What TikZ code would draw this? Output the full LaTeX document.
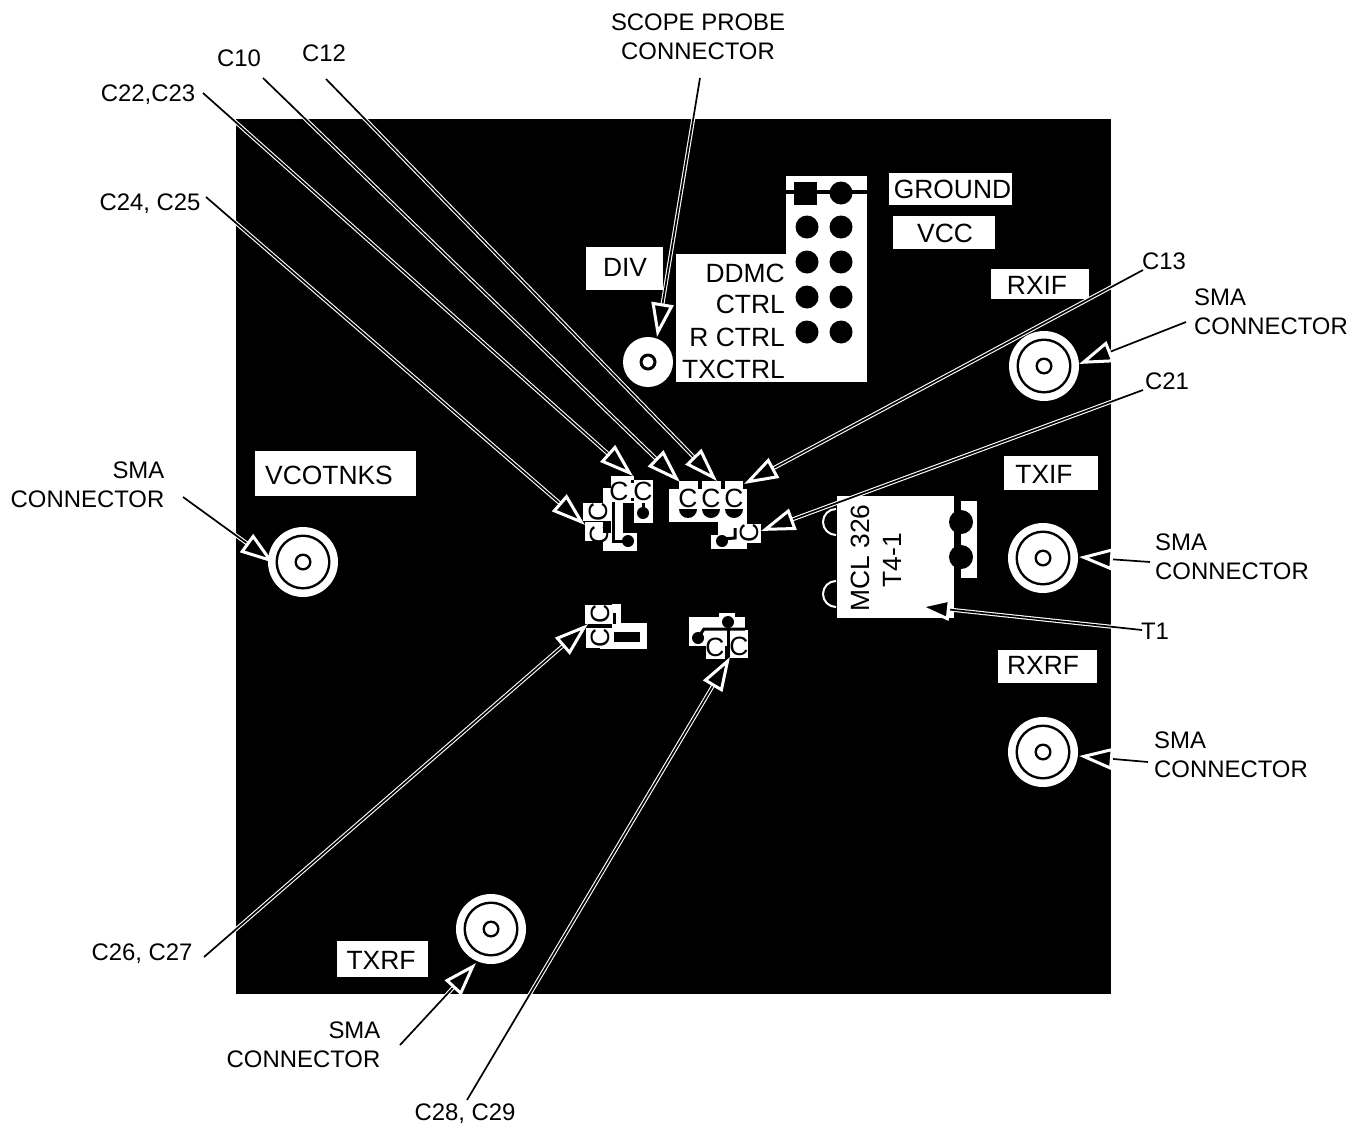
\documentclass[tikz,border=0pt]{standalone}
\usepackage{fontspec}
\setmainfont{Liberation Sans}
\usetikzlibrary{arrows.meta}
\tikzset{
  pad/.style={fill=white},
  hole/.style={fill=black},
  trace/.style={draw=black,line width=3pt},
  lbl/.style={inner sep=0pt,font=\fontsize{23.9}{29}\selectfont},
  brd/.style={inner sep=0pt,font=\fontsize{26.4}{32}\selectfont},
  leader/.style={draw=white,double=black,line width=1.1pt,double distance=1.7pt,
    -{Triangle[open,length=34pt,width=22pt,line width=3pt,fill=black,color=white]}},
}
\begin{document}
\begin{tikzpicture}[x=1pt,y=-1pt]
\useasboundingbox (0,0) rectangle (1365,1127);
\fill[black] (236,119) rectangle (1111,994);

% white areas of the board
\foreach \xa/\ya/\xb/\yb in {
    786/176/867/382, 676/254/786/382, 586/247/663/290,
    889/173/1012/205, 893/216/995/249, 991/269/1089/299,
    1004/456/1098/490, 998/650/1097/683, 255/451/416/496, 337/941/428/977,
    837/496/954/618, 961/501/977/578,
    611/476/634/503, 634/480/653/523, 583/503/611/521, 603/488/611/503,
    585/522/603/541, 611/500/623/535, 603/533/637/551,
    669/489/747/522, 679/481/698/489, 702/481/721/489, 725/481/743/489,
    718/522/747/535, 711/535/747/549, 737/524/761/543,
    585/605/612/624, 612/604/621/628, 586/628/614/648, 614/623/647/649, 600/648/647/649,
    689/617/745/646, 719/613/735/617, 706/630/725/659, 730/630/748/658}
  \fill[pad] (\xa,\ya) rectangle (\xb,\yb);
\fill[black] (614,632) rectangle (640,642);
\fill[black] (786,190) rectangle (867,194);

% header pins
\fill[hole] (794,182) rectangle (817,205);
\fill[hole] (841,193) circle (11.5);
\foreach \y in {227,262,297,332} {
  \fill[hole] (807,\y) circle (11.5);
  \fill[hole] (841,\y) circle (11.5);
}

% connectors
\foreach \x/\y in {1044/366,1043/558,1043/752,303/562,491/929} {
  \fill[pad] (\x,\y) circle (35);
  \fill[black] (\x,\y) circle (27.5);
  \fill[pad] (\x,\y) circle (25);
  \fill[black] (\x,\y) circle (8.5);
  \fill[pad] (\x,\y) circle (6);
}
\fill[pad] (648,362) circle (25);
\fill[black] (648,362) circle (8.5);
\fill[pad] (648,362) circle (5.5);

% transformer
\fill[hole] (961,522) circle (12);
\fill[hole] (961,557) circle (12);
\foreach \y in {509,581}
  \draw[white,line width=2pt] (836,\y) arc (-90:-270:13);

% holes and traces near the caps
\foreach \x in {688,711,734}
  \fill[hole] (\x-9,509) arc (180:0:9) -- cycle;
\foreach \x/\y in {643/513,628/541,722/541,728/622,698/638}
  \fill[hole] (\x,\y) circle (6);
\draw[trace] (643,503) -- (643,513);
\draw[trace] (613,502) -- (613,541) -- (628,541);
\draw[trace] (722,539) -- (735,538) -- (735,528);
\draw[trace] (614,613) -- (614,624);
\draw[trace] (601,624) -- (601,628);
\draw[trace] (698,638) -- (704,629) -- (745,629);
\draw[trace] (728,622) -- (728,655);
\fill[black] (631,480) rectangle (634,483);
\fill[black] (631,498) rectangle (634,501);

% text on the board
\node[brd] (div) at (625,267) {DIV};
\node[brd] (ground) at (952.5,189) {GROUND};
\node[brd] (vcc) at (945,233) {VCC};
\node[brd] (rxif) at (1037,285) {RXIF};
\node[brd] (txif) at (1044,474) {TXIF};
\node[brd] (rxrf) at (1043,665) {RXRF};
\node[brd] (vcotnks) at (329,475) {VCOTNKS};
\node[brd] (txrf) at (381,960) {TXRF};
\node[brd,anchor=base east] (ddmc) at (785,282) {DDMC};
\node[brd,anchor=base east] (ctrl) at (785,313) {CTRL};
\node[brd,anchor=base east] (rctrl) at (785,346) {R CTRL};
\node[brd,anchor=base east] (txctrl) at (785,378) {TXCTRL};
\node[brd,rotate=90] (mcl) at (860,558) {MCL 326};
\node[brd,rotate=90] (tfour) at (892,560) {T4-1};
\foreach \nm/\x/\y in {ca/619/491,cb/643/491,cc/688/498,cd/711/498,ce/734/498,cf/715/647,cg/739/646}
  \node[brd] (\nm) at (\x,\y) {C};
\foreach \nm/\x/\y in {ch/598/512,ci/599/535,cj/749/533,ck/600/614,cl/600/638}
  \node[brd,rotate=90] (\nm) at (\x,\y) {C};

% labels outside the board
\node[lbl,align=center] (scope) at (698,37) {SCOPE PROBE\\CONNECTOR};
\node[lbl] (cten) at (239,58) {C10};
\node[lbl] (ctwelve) at (324,53) {C12};
\node[lbl] (ctwtwo) at (148,95) {C22,C23};
\node[lbl] (ctwfour) at (150,204) {C24, C25};
\node[lbl] (cthirt) at (1164,261) {C13};
\node[lbl] (ctwone) at (1167,381) {C21};
\node[lbl] (tone) at (1155,631) {T1};
\node[lbl] (ctwsix) at (142,954) {C26, C27};
\node[lbl] (ctweight) at (465,1114) {C28, C29};
\node[lbl,align=left,anchor=west] (smaa) at (1194,312) {SMA\\CONNECTOR};
\node[lbl,align=left,anchor=west] (smab) at (1155,557) {SMA\\CONNECTOR};
\node[lbl,align=left,anchor=west] (smac) at (1154,755) {SMA\\CONNECTOR};
\node[lbl,align=right,anchor=east] (smad) at (164.5,485) {SMA\\CONNECTOR};
\node[lbl,align=right,anchor=east] (smae) at (380.5,1045) {SMA\\CONNECTOR};

% leaders
\foreach \nm/\ax/\ay/\bx/\by in {
    scope/700/78/657/337, ctwtwo/203/93/633/476, cten/263/78/680/482,
    ctwelve/326/79/717/481, ctwfour/206/197/585/525, cthirt/1143/270/744/484,
    ctwone/1143/390/761/531, tone/1142/630/916/606, ctwsix/204/957/588/624,
    ctweight/467/1100/730/657, smaa/1186/322/1079/364, smab/1150/562/1079/557,
    smac/1148/762/1079/756, smad/183/497/274/563, smae/400/1045/476/963} {
  \coordinate (f\nm) at (\ax,\ay);
  \coordinate (p\nm) at (\bx,\by);
  \draw[leader] (f\nm) -- (p\nm);
}
\end{tikzpicture}
\end{document}
